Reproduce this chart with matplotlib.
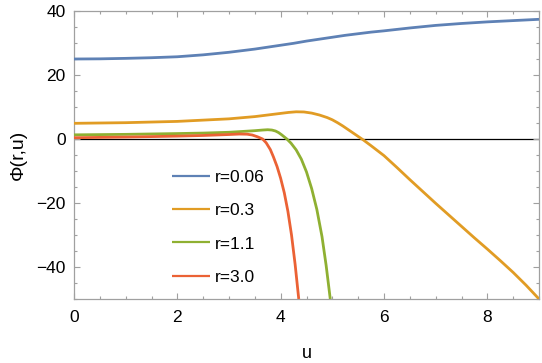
import numpy as np
import matplotlib.pyplot as plt
from matplotlib.ticker import MultipleLocator

plt.rcParams['font.family'] = ['Liberation Sans', 'DejaVu Sans']

# values
u_blue = [0, 0.5, 1, 1.5, 2, 2.5, 3, 3.25, 3.5, 3.75, 4, 4.25, 4.5, 4.75, 5, 5.25, 5.5, 5.75, 6, 6.5, 7, 7.5, 8, 8.5, 9]
phi_blue = [25.0, 25.05, 25.2, 25.4, 25.7, 26.3, 27.1, 27.6, 28.1, 28.7, 29.3, 29.9, 30.6, 31.2, 31.8, 32.4, 32.9, 33.4, 33.8, 34.7, 35.5, 36.1, 36.6, 37.0, 37.4]

u_orange = [0, 1, 2, 2.5, 3, 3.5, 3.8, 4.0, 4.15, 4.3, 4.45, 4.6, 4.75, 4.9, 5.0, 5.1, 5.2, 5.3, 5.4, 5.5, 5.6,
            5.75, 6.0, 6.25, 6.5, 6.75, 7.0, 7.25, 7.5, 7.75, 8.0, 8.25, 8.5, 8.75, 9.0]
phi_orange = [4.9, 5.1, 5.5, 5.9, 6.3, 7.0, 7.6, 8.0, 8.3, 8.5, 8.45, 8.1, 7.5, 6.7, 6.0, 5.1, 4.1, 3.0, 1.9, 0.8, -0.3,
              -2.1, -5.2, -8.9, -12.7, -16.4, -20.1, -23.7, -27.3, -30.9, -34.4, -38.0, -41.7, -45.7, -50.0]

u_green = [0, 1, 2, 2.5, 3, 3.3, 3.5, 3.65, 3.75, 3.83, 3.9, 3.96, 4.02, 4.07, 4.12, 4.2, 4.3, 4.4, 4.5,
           4.6, 4.7, 4.8, 4.88, 4.96]
phi_green = [1.3, 1.45, 1.7, 1.85, 2.1, 2.4, 2.6, 2.8, 2.9, 2.8, 2.5, 2.0, 1.3, 0.65, 0.0, -1.3, -3.4, -6.3, -10.3,
             -15.5, -22.0, -30.5, -39.5, -50.0]

u_red = [0, 1, 2, 2.5, 3, 3.2, 3.35, 3.45, 3.55, 3.65, 3.72, 3.8, 3.86, 3.93, 4.0, 4.07, 4.14, 4.21, 4.28, 4.35]
phi_red = [0.4, 0.6, 0.9, 1.1, 1.4, 1.55, 1.5, 1.25, 0.7, 0.0, -1.2, -3.3, -5.6, -8.6, -12.3, -16.8, -22.6, -30.0,
           -39.2, -50.0]

labels = ['r=0.06', 'r=0.3', 'r=1.1', 'r=3.0']
colors = ['#5E81B5', '#E19C24', '#8FB032', '#EB6235']

fig = plt.figure(figsize=(5.42, 3.63), dpi=100)
ax = fig.add_axes([74/542, 1 - 299/363, (539 - 74)/542, (299 - 11)/363])

ax.axhline(0, color='black', lw=0.9, zorder=1)

series = [(u_blue, phi_blue), (u_orange, phi_orange), (u_green, phi_green), (u_red, phi_red)]
for (uu, pp), lab, c in zip(series, labels, colors):
    ax.plot(uu, pp, color=c, lw=2, label=lab, zorder=3, solid_capstyle='butt', solid_joinstyle='round')

ax.set_xlim(0, 9)
ax.set_ylim(-50, 40)
ax.xaxis.set_major_locator(MultipleLocator(2))
ax.xaxis.set_minor_locator(MultipleLocator(0.5))
ax.yaxis.set_major_locator(MultipleLocator(20))
ax.yaxis.set_minor_locator(MultipleLocator(5))

for s in ax.spines.values():
    s.set_color('#a0a0a0')
    s.set_linewidth(0.9)
ax.tick_params(which='both', direction='in', top=True, right=True, color='#a0a0a0', width=0.8, labelsize=12.5)
ax.tick_params(which='major', length=4.5)
ax.tick_params(which='minor', length=2.5)
ax.tick_params(axis='x', which='major', pad=8)
ax.tick_params(axis='y', which='major', pad=6)
ax.xaxis.set_major_formatter(plt.FuncFormatter(lambda v, p: '%d' % v))
ax.yaxis.set_major_formatter(plt.FuncFormatter(lambda v, p: ('\u2212%d' % -v) if v < 0 else '%d' % v))

ax.set_xlabel('u', fontsize=13, labelpad=14)
ax.set_ylabel('\u03a6(r,u)', fontsize=14, labelpad=7)

leg = ax.legend(loc='upper left', bbox_to_anchor=((156 - 74)/465, (299 - 154)/288), frameon=False,
                fontsize=12.5, handlelength=2.2, handletextpad=0.3, labelspacing=1.05)
for h in leg.get_lines():
    h.set_linewidth(1.6)

fig.savefig('out.png', dpi=100)
